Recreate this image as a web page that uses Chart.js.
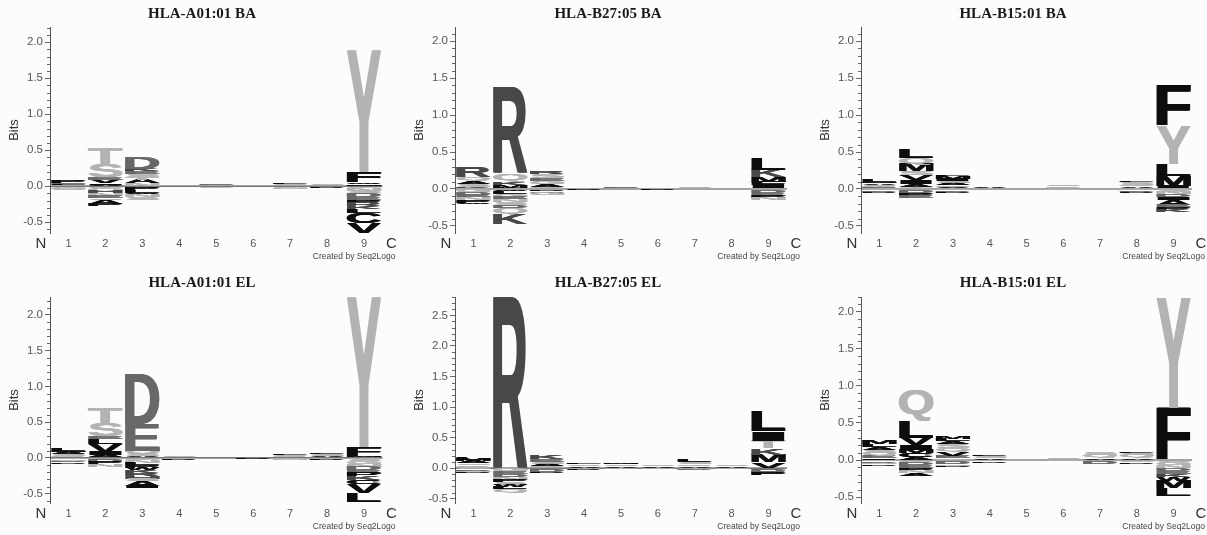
<!DOCTYPE html>
<html><head><meta charset="utf-8">
<script src="https://cdn.jsdelivr.net/npm/chart.js@4/dist/chart.umd.min.js"></script>
<style>
html,body{margin:0;padding:0;background:#fcfcfc;overflow:hidden;width:1207px;height:535px;position:relative;}
canvas{position:absolute;display:block;}
</style></head><body>
<script>
// ---------- data ----------
const positions = ['1','2','3','4','5','6','7','8','9'];
const panelTitles = ['HLA-A01:01 BA','HLA-B27:05 BA','HLA-B15:01 BA','HLA-A01:01 EL','HLA-B27:05 EL','HLA-B15:01 EL'];
const yMin = [-0.65, -0.595, -0.595, -0.63, -0.57, -0.58];
const yMax = [2.21, 2.19, 2.19, 2.25, 2.8, 2.2];

// positive stacks listed top -> bottom, negative stacks listed zero -> bottom (bits)
const a01baUp = [
  [['P',.03],['E',.02],['L',.02],['S',.01]],
  [['T',.23],['S',.18],['E',.03],['V',.05],['I',.02],['A',.02]],
  [['D',.15],['K',.03],['E',.04],['S',.04],['T',.04],['A',.05],['N',.04]],
  [['A',.01]], [['E',.01],['S',.01]], [['G',.01]],
  [['L',.02],['S',.02],['E',.01]], [['S',.01],['A',.01]],
  [['Y',1.69],['F',.14],['W',.02],['M',.03]]
];
const a01baDown = [
  [['G',.02],['N',.02],['S',.02]],
  [['G',.03],['Q',.04],['H',.03],['N',.04],['E',.03],['S',.02],['A',.06],['P',.03]],
  [['G',.03],['P',.03],['L',.03],['W',.02],['N',.04],['S',.04]],
  [['G',.01]], [['P',.01],['G',.01]], [['G',.01]],
  [['G',.02],['N',.02]], [['G',.01],['P',.01]],
  [['G',.03],['N',.04],['S',.03],['D',.05],['E',.04],['P',.04],['R',.05],['K',.04],['L',.05],['C',.14],['V',.14]]
];
const b27baUp = [
  [['R',.13],['Q',.05],['A',.04],['S',.04],['K',.03]],
  [['R',1.16],['Q',.12],['K',.04],['M',.04],['L',.02]],
  [['R',.03],['S',.05],['E',.04],['G',.04],['A',.04],['Q',.03]],
  [['A',.01]], [['E',.02],['S',.01]], [['G',.01]],
  [['S',.02],['A',.01]], [['A',.01]],
  [['L',.16],['K',.1],['M',.06],['F',.05],['I',.05]]
];
const b27baDown = [
  [['G',.04],['D',.04],['E',.03],['N',.04],['P',.04],['W',.01]],
  [['W',.03],['L',.04],['G',.04],['E',.03],['N',.04],['S',.04],['D',.04],['Q',.08],['K',.13]],
  [['P',.03],['W',.02],['G',.03]],
  [['G',.01],['P',.01]], [['G',.01]], [['G',.01],['P',.01]],
  [['G',.01]], [['G',.01]],
  [['G',.03],['D',.03],['E',.03],['P',.03],['N',.03]]
];
const b15baUp = [
  [['L',.03],['M',.02],['A',.02],['S',.02],['Q',.02],['E',.02]],
  [['L',.12],['Q',.08],['M',.1],['S',.05],['V',.07],['I',.05],['A',.04],['T',.03]],
  [['L',.02],['M',.03],['I',.03],['S',.03],['A',.03],['Q',.03],['V',.02]],
  [['A',.02],['S',.01]], [['S',.01]], [['S',.02],['T',.02],['Q',.02]],
  [['A',.01]], [['L',.02],['S',.03],['Q',.03],['A',.03]],
  [['F',.54],['Y',.52],['L',.16],['M',.14],['I',.04]]
];
const b15baDown = [
  [['G',.02],['D',.02],['P',.01]],
  [['G',.03],['D',.03],['P',.03],['E',.03]],
  [['G',.02],['D',.02],['P',.02]],
  [['G',.01]], [['G',.01]], [['G',.02]],
  [['G',.01]], [['G',.02],['D',.02],['P',.01]],
  [['S',.04],['N',.03],['D',.04],['I',.04],['A',.06],['E',.03],['P',.04],['K',.03]]
];
const a01elUp = [
  [['L',.03],['M',.02],['A',.03],['S',.03],['Q',.02]],
  [['T',.22],['S',.19],['E',.04],['L',.07],['V',.1],['I',.05],['A',.04]],
  [['D',.7],['E',.38],['Q',.04],['S',.03],['A',.03]],
  [['S',.01],['A',.01]], [['A',.01]], [['G',.01]],
  [['L',.02],['S',.02],['Q',.02]], [['L',.02],['S',.03],['A',.02]],
  [['Y',2.1],['F',.12],['M',.03]]
];
const a01elDown = [
  [['G',.02],['N',.02],['D',.02],['P',.02]],
  [['G',.03],['D',.03],['P',.03],['N',.03]],
  [['G',.03],['N',.04],['L',.03],['P',.04],['W',.03],['K',.04],['R',.04],['H',.04],['S',.03],['A',.07],['I',.03]],
  [['G',.02],['P',.01]], [['G',.01]], [['G',.01],['P',.01]],
  [['G',.02],['N',.01]], [['G',.02],['P',.01]],
  [['S',.04],['G',.04],['N',.04],['D',.05],['E',.04],['P',.05],['K',.05],['C',.06],['V',.12],['L',.13]]
];
const b27elUp = [
  [['L',.04],['M',.03],['A',.03],['S',.03],['Q',.03],['G',.02]],
  [['R',2.8]],
  [['K',.06],['E',.05],['S',.04],['A',.03],['Q',.03]],
  [['L',.02],['S',.03],['A',.03]], [['M',.02],['S',.03],['A',.03]], [['S',.02],['A',.03]],
  [['L',.03],['S',.04],['Q',.03],['A',.03]], [['S',.03],['A',.03]],
  [['L',.34],['I',.15],['T',.12],['K',.11],['M',.12],['V',.1]]
];
const b27elDown = [
  [['G',.02],['D',.02],['N',.02],['P',.02]],
  [['G',.04],['E',.05],['D',.05],['N',.05],['P',.04],['S',.04],['W',.04],['L',.03],['Q',.06]],
  [['G',.03],['D',.03],['P',.02]],
  [['G',.02],['P',.01]], [['G',.02]], [['G',.02]],
  [['G',.02],['D',.01]], [['G',.02]],
  [['G',.03],['D',.03],['E',.03],['P',.03]]
];
const b15elUp = [
  [['M',.05],['L',.04],['A',.04],['S',.04],['Q',.04],['E',.03],['I',.03]],
  [['Q',.43],['L',.22],['V',.1],['I',.06],['M',.05],['C',.05],['A',.04]],
  [['M',.04],['L',.04],['A',.04],['S',.05],['Q',.05],['V',.05],['E',.03],['T',.03]],
  [['L',.02],['S',.03],['A',.03]], [['A',.01]], [['S',.01],['A',.01]],
  [['S',.03],['Q',.04],['A',.03]], [['L',.02],['S',.03],['Q',.04],['A',.03]],
  [['Y',1.49],['F',.7]]
];
const b15elDown = [
  [['G',.02],['D',.02],['N',.02],['P',.02]],
  [['G',.03],['D',.04],['E',.04],['P',.04],['N',.03],['A',.04]],
  [['G',.03],['D',.03],['N',.02],['P',.02]],
  [['G',.02],['P',.02]], [['G',.01]], [['G',.02]],
  [['G',.03],['D',.03]], [['G',.03],['P',.02]],
  [['S',.03],['G',.04],['N',.04],['D',.04],['E',.04],['K',.04],['W',.05],['M',.1],['L',.1]]
];
const panelUp = [a01baUp, b27baUp, b15baUp, a01elUp, b27elUp, b15elUp];
const panelDown = [a01baDown, b27baDown, b15baDown, a01elDown, b27elDown, b15elDown];

// ---------- styling / layout ----------
const SANS = "'Liberation Sans', Arial, Helvetica, sans-serif";
const SERIF = "'Liberation Serif', 'Times New Roman', serif";
const colL = [0, 405, 811], colW = [404, 406, 404], colRight = [21.5, 24, 23];
const rowT = [0, 268], rowH = [268, 267], rowXH = [35, 32];
const rowTitlePad = [{top:5,bottom:4},{top:6,bottom:5}];

function letterColor(ch){
  if ('ACFILMPVW'.includes(ch)) return '#0d0d0d';
  if ('HKR'.includes(ch)) return '#484848';
  if ('DE'.includes(ch)) return '#686868';
  return '#b3b3b3';
}

function buildDatasets(up, down){
  const ds = [];
  const base = {backgroundColor:'rgba(0,0,0,0)', borderWidth:0, stack:'logo', barPercentage:1, categoryPercentage:1};
  const nUp = Math.max(...up.map(s => s.length));
  for (let r = 0; r < nUp; r++){
    const data = [], letters = [];
    up.forEach(s => { const k = s.length - 1 - r; if (k >= 0){ data.push(s[k][1]); letters.push(s[k][0]); } else { data.push(null); letters.push(null); } });
    ds.push(Object.assign({data, letters}, base));
  }
  const nDown = Math.max(...down.map(s => s.length));
  for (let r = 0; r < nDown; r++){
    const data = [], letters = [];
    down.forEach(s => { if (r < s.length){ data.push(-s[r][1]); letters.push(s[r][0]); } else { data.push(null); letters.push(null); } });
    ds.push(Object.assign({data, letters}, base));
  }
  return ds;
}

const glyphCache = {};
function glyph(ctx, ch){
  if (!glyphCache[ch]){
    ctx.save();
    ctx.font = "bold 100px " + SANS;
    const m = ctx.measureText(ch);
    ctx.restore();
    glyphCache[ch] = {l:m.actualBoundingBoxLeft, w:m.actualBoundingBoxLeft + m.actualBoundingBoxRight, a:m.actualBoundingBoxAscent, h:m.actualBoundingBoxAscent + m.actualBoundingBoxDescent};
  }
  return glyphCache[ch];
}

const logoPlugin = {
  id: 'logo',
  beforeDatasetsDraw(chart){
    const {ctx, chartArea:a, scales:{y}} = chart;
    ctx.save();
    ctx.strokeStyle = '#666'; ctx.lineWidth = 1;
    const lo = Math.ceil(y.min * 10 - 1e-9), hi = Math.floor(y.max * 10 + 1e-9);
    for (let v = lo; v <= hi; v++){
      if (v % 5 === 0) continue;
      const py = Math.round(y.getPixelForValue(v / 10)) + 0.5;
      ctx.beginPath(); ctx.moveTo(a.left - 3, py); ctx.lineTo(a.left, py); ctx.stroke();
    }
    const y0 = y.getPixelForValue(0);
    ctx.strokeStyle = '#4a4a4a'; ctx.lineWidth = 1.2;
    ctx.beginPath(); ctx.moveTo(a.left, y0); ctx.lineTo(a.right, y0); ctx.stroke();
    ctx.restore();
  },
  afterDatasetsDraw(chart){
    const {ctx, chartArea:a} = chart;
    ctx.save();
    ctx.beginPath(); ctx.rect(a.left, a.top - 1, a.right - a.left, a.bottom - a.top + 2); ctx.clip();
    ctx.font = "bold 100px " + SANS;
    ctx.textAlign = 'left'; ctx.textBaseline = 'alphabetic';
    const thick = 1.6;
    chart.data.datasets.forEach((ds, i) => {
      const meta = chart.getDatasetMeta(i);
      meta.data.forEach((el, j) => {
        const ch = ds.letters[j];
        if (!ch) return;
        const p = el.getProps(['x','y','base','width'], true);
        if (!isFinite(p.y) || !isFinite(p.base)) return;
        const top = Math.min(p.y, p.base), h = Math.abs(p.base - p.y);
        if (h <= 0) return;
        const w = p.width * 0.95 - thick;
        const g = glyph(ctx, ch);
        ctx.fillStyle = letterColor(ch);
        for (const dx of [0, thick / 2, thick]){
          ctx.save();
          ctx.translate(p.x - (w + thick) / 2 + dx, top);
          ctx.scale(w / g.w, h / g.h);
          ctx.fillText(ch, g.l, g.a);
          ctx.restore();
        }
      });
    });
    ctx.restore();
  },
  afterDraw(chart){
    const {ctx, chartArea:a} = chart;
    ctx.save();
    ctx.fillStyle = '#333';
    ctx.font = "15px " + SANS;
    ctx.textBaseline = 'middle';
    ctx.textAlign = 'center';
    ctx.fillText('N', a.left - 9, a.bottom + 11);
    ctx.fillText('C', a.right + 9, a.bottom + 11);
    ctx.font = "8.5px " + SANS;
    ctx.fillStyle = '#444';
    ctx.textAlign = 'right';
    ctx.fillText('Created by Seq2Logo', a.right + 13, a.bottom + 24);
    ctx.restore();
  }
};

for (let i = 0; i < 6; i++){
  const col = i % 3, row = Math.floor(i / 3);
  const cv = document.createElement('canvas');
  cv.width = colW[col]; cv.height = rowH[row];
  cv.style.left = colL[col] + 'px'; cv.style.top = rowT[row] + 'px';
  cv.style.width = colW[col] + 'px'; cv.style.height = rowH[row] + 'px';
  document.body.appendChild(cv);
  const rw = colRight[col], xh = rowXH[row];
  new Chart(cv, {
    type: 'bar',
    data: {labels: positions, datasets: buildDatasets(panelUp[i], panelDown[i])},
    options: {
      responsive: false, animation: false, events: [],
      layout: {padding: 0},
      plugins: {
        legend: {display: false}, tooltip: {enabled: false},
        title: {display: true, text: panelTitles[i], color: '#1a1a1a',
          font: {family: SERIF, size: 15, weight: 'bold'}, padding: rowTitlePad[row]}
      },
      scales: {
        x: {stacked: true, offset: true,
          grid: {display: false, drawTicks: false}, border: {display: false},
          ticks: {color: '#555', font: {family: SANS, size: 11}, padding: 4},
          afterFit: s => { s.height = xh; }},
        y: {stacked: true, min: yMin[i], max: yMax[i],
          border: {display: true, color: '#555', width: 1},
          grid: {drawOnChartArea: false, tickLength: 5, color: '#666'},
          ticks: {stepSize: 0.5, includeBounds: false, color: '#555', font: {family: SANS, size: 11.5}, padding: 2,
            callback: v => Number(v).toFixed(1)},
          title: {display: true, text: 'Bits', color: '#333', font: {family: SANS, size: 13}, padding: {top: 7, bottom: 0}},
          afterFit: s => { s.width = 50; }},
        yR: {type: 'linear', position: 'right', display: true,
          grid: {display: false}, border: {display: false}, ticks: {display: false},
          afterFit: s => { s.width = rw; }}
      }
    },
    plugins: [logoPlugin]
  });
}
</script>
</body></html>
